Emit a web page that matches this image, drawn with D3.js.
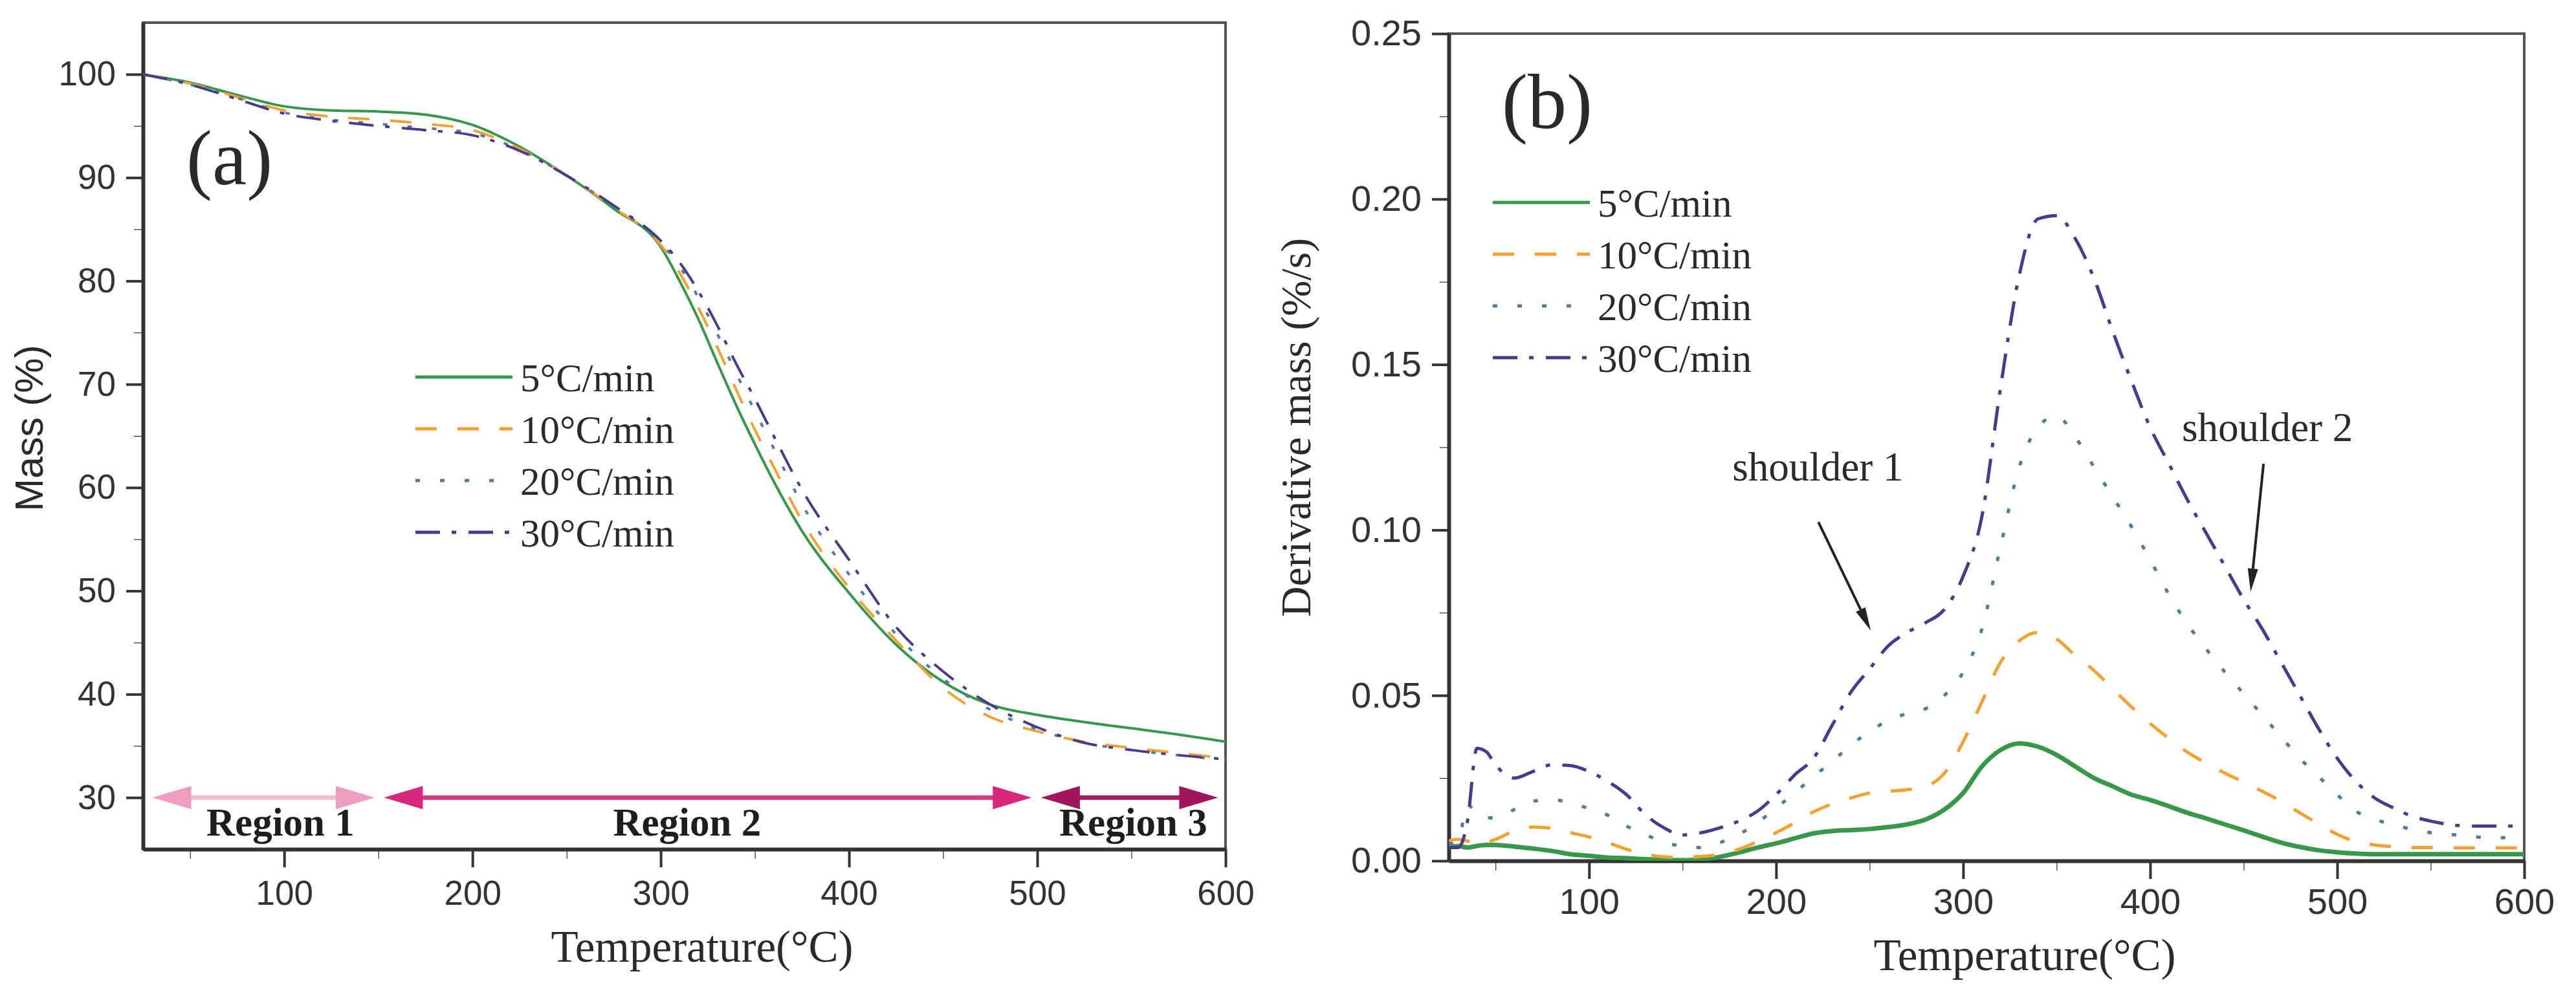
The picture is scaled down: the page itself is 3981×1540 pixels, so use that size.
<!DOCTYPE html>
<html>
<head>
<meta charset="utf-8">
<script src="https://cdn.jsdelivr.net/npm/d3@7/dist/d3.min.js"></script>
<style>
  body { margin: 0; background: #fff; }
</style>
</head>
<body>
<svg id="chart" width="3981" height="1540"></svg>
<script>
// ---- data ----
// (a) TG curves, mass (%) vs temperature (°C)
const tempA = [25, 50, 75, 100, 125, 150, 175, 200, 225, 250, 275, 300, 310, 320,
  330, 340, 350, 360, 375, 400, 425, 450, 475, 500, 525, 550, 575, 600];
const mass5 = [100.0, 99.2, 98.0, 96.9, 96.5, 96.4, 96.1, 95.1, 93.0, 90.2, 87.0, 83.3, 80.0, 76.3,
  72.1, 68.0, 64.2, 60.6, 55.8, 49.8, 44.8, 41.2, 39.0, 38.0, 37.3, 36.7, 36.1, 35.4];
const mass10 = [100.0, 99.1, 97.8, 96.5, 95.9, 95.6, 95.2, 94.6, 92.8, 90.2, 87.1, 83.5, 80.8, 77.4,
  73.6, 69.5, 65.6, 62.0, 56.8, 50.3, 45.2, 40.6, 37.8, 36.4, 35.4, 34.8, 34.3, 33.8];
const mass20 = [100.0, 99.0, 97.7, 96.3, 95.6, 95.2, 94.8, 94.3, 92.7, 90.2, 87.2, 83.7, 81.4, 78.4,
  74.9, 71.1, 67.4, 63.8, 58.4, 51.6, 45.8, 41.5, 38.5, 36.6, 35.3, 34.6, 34.1, 33.6];
const mass30 = [100.0, 99.0, 97.6, 96.2, 95.5, 95.0, 94.6, 94.1, 92.6, 90.2, 87.3, 83.9, 81.8, 79.0,
  75.7, 72.0, 68.6, 65.0, 59.8, 53.0, 46.5, 42.2, 39.0, 36.8, 35.3, 34.6, 34.1, 33.7];

// (b) DTG curves, derivative mass (%/s) vs temperature (°C)
const tempB = [25, 30, 35, 40, 45, 50, 60, 70, 80, 90, 100, 110, 120, 130, 140, 150, 160, 170, 180,
  190, 200, 210, 220, 230, 240, 250, 260, 270, 280, 290, 300, 310, 320, 330, 340, 350, 360, 370,
  380, 390, 400, 410, 420, 430, 440, 450, 460, 470, 480, 490, 500, 510, 520, 530, 540, 550, 560,
  570, 580, 590, 600];
const dtg5 = [0.004, 0.0045, 0.004, 0.0045, 0.0048, 0.0048, 0.0043, 0.0037, 0.003, 0.002, 0.0015,
  0.001, 0.0008, 0.0005, 0.0003, 0.0002, 0.0005, 0.0012, 0.0025, 0.004, 0.0053, 0.0068, 0.0083,
  0.009, 0.0093, 0.0096, 0.0102, 0.011, 0.0125, 0.0155, 0.0205, 0.0285, 0.0335, 0.0355, 0.0345,
  0.032, 0.0285, 0.025, 0.0225, 0.020, 0.0184, 0.0165, 0.0145, 0.0128, 0.011, 0.0092, 0.0073,
  0.0055, 0.0042, 0.0032, 0.0026, 0.0022, 0.002, 0.002, 0.002, 0.002, 0.002, 0.002, 0.002, 0.002, 0.002];
const dtg10 = [0.006, 0.0065, 0.006, 0.005, 0.0055, 0.0065, 0.009, 0.0102, 0.0098, 0.0085, 0.0072,
  0.0055, 0.0035, 0.002, 0.0012, 0.001, 0.0013, 0.002, 0.0035, 0.0058, 0.0085, 0.0115, 0.0148,
  0.0172, 0.019, 0.0205, 0.021, 0.0215, 0.0225, 0.0265, 0.036, 0.048, 0.060, 0.0665, 0.069,
  0.067, 0.062, 0.0575, 0.052, 0.0465, 0.0415, 0.037, 0.0328, 0.0295, 0.0265, 0.0238, 0.021,
  0.018, 0.0145, 0.0112, 0.008, 0.0058, 0.0048, 0.0043, 0.004, 0.004, 0.0039, 0.0039, 0.0039, 0.0039, 0.0039];
const dtg20 = [0.005, 0.006, 0.017, 0.014, 0.013, 0.013, 0.0155, 0.018, 0.0185, 0.0175, 0.0158,
  0.0138, 0.0105, 0.008, 0.0055, 0.0045, 0.004, 0.0055, 0.008, 0.0115, 0.016, 0.0205, 0.0255,
  0.030, 0.035, 0.039, 0.0425, 0.0445, 0.046, 0.050, 0.057, 0.070, 0.095, 0.119, 0.131,
  0.1345, 0.128, 0.119, 0.110, 0.101, 0.091, 0.0805, 0.0715, 0.064, 0.057, 0.0505, 0.044,
  0.0375, 0.031, 0.0255, 0.020, 0.015, 0.0125, 0.011, 0.0095, 0.0085, 0.008, 0.0075, 0.007, 0.007, 0.0067];
const dtg30 = [0.004, 0.004, 0.012, 0.034, 0.033, 0.029, 0.025, 0.027, 0.029, 0.0288, 0.027,
  0.024, 0.020, 0.014, 0.010, 0.0078, 0.0085, 0.010, 0.012, 0.015, 0.020, 0.026, 0.031,
  0.041, 0.051, 0.058, 0.065, 0.069, 0.072, 0.076, 0.086, 0.104, 0.143, 0.177, 0.194,
  0.195, 0.188, 0.176, 0.160, 0.145, 0.131, 0.120, 0.109, 0.099, 0.089, 0.079, 0.070,
  0.060, 0.050, 0.040, 0.031, 0.024, 0.019, 0.016, 0.0135, 0.012, 0.011, 0.0105, 0.0105, 0.0105, 0.0105];

const rateLabels = ["5°C/min", "10°C/min", "20°C/min", "30°C/min"];
const tempTicks = [100, 200, 300, 400, 500, 600];
const tempMinor = [50, 150, 250, 350, 450, 550];
const massTicks = [30, 40, 50, 60, 70, 80, 90, 100];
const massMinor = [35, 45, 55, 65, 75, 85, 95];
const dtgTicks = [0, 0.05, 0.10, 0.15, 0.20, 0.25];
const dtgMinor = [0.025, 0.075, 0.125, 0.175, 0.225];

// regions in (a), drawn at mass = 30 %
const regionNames = ["Region 1", "Region 2", "Region 3"];
const regionFrom = [30, 153, 502];
const regionTo = [148, 497, 596];
const regionLabelAt = [98, 314, 551];

// ---- styles ----
const colors = ["#37984c", "#f0a232", "#4f7d9c", "#4a3a8c"];
const dashes = [null, "33,32", "7,31", "38,18,7,19"];
const serif = "'Liberation Serif', 'Times New Roman', serif";
const sans = "'Liberation Sans', Arial, sans-serif";
const ink = "#2a2a2a";

const svg = d3.select("#chart");
svg.append("rect").attr("width", 3981).attr("height", 1540).attr("fill", "#fff");

function drawPanel(p) {
  const x = d3.scaleLinear().domain([25, 600]).range(p.xRange);
  const y = d3.scaleLinear().domain(p.yDomain).range(p.yRange);
  const g = svg.append("g");
  const left = p.xRange[0], right = p.xRange[1], bottom = p.yRange[0], top = p.yRange[1];

  // clip for curves
  g.append("clipPath").attr("id", p.id + "clip")
    .append("rect").attr("x", left).attr("y", top).attr("width", right - left).attr("height", bottom - top);

  // frame (top and right)
  g.append("rect")
    .attr("x", left).attr("y", top).attr("width", right - left).attr("height", bottom - top)
    .attr("fill", "none").attr("stroke", "#555").attr("stroke-width", 4);

  // minor ticks
  g.append("g").attr("transform", `translate(0,${bottom})`)
    .call(d3.axisBottom(x).tickValues(tempMinor).tickSize(15).tickSizeOuter(0).tickFormat(""))
    .call(a => a.select(".domain").remove());
  g.append("g").attr("transform", `translate(${left},0)`)
    .call(d3.axisLeft(y).tickValues(p.yMinor).tickSize(14).tickSizeOuter(0).tickFormat(""))
    .call(a => a.select(".domain").remove());

  // major axes
  const ax = g.append("g").attr("transform", `translate(0,${bottom})`)
    .call(d3.axisBottom(x).tickValues(tempTicks).tickSize(28).tickSizeOuter(0).tickPadding(p.xPad));
  const ay = g.append("g").attr("transform", `translate(${left},0)`)
    .call(d3.axisLeft(y).tickValues(p.yTicks).tickSize(26).tickSizeOuter(0).tickPadding(16)
      .tickFormat(p.yFormat));
  [ax, ay].forEach(a => {
    a.selectAll(".tick line").attr("stroke", "#333").attr("stroke-width", 4);
    a.select(".domain").attr("stroke", "#333").attr("stroke-width", 6);
    a.selectAll("text").attr("font-family", sans).attr("font-size", p.tickFont).attr("fill", "#333");
  });

  // curves
  const line = d3.line().x(d => x(d[0])).y(d => y(d[1])).curve(d3.curveMonotoneX);
  p.series.forEach((vals, i) => {
    g.append("path")
      .datum(p.temps.map((t, k) => [t, vals[k]]))
      .attr("clip-path", `url(#${p.id}clip)`)
      .attr("d", line)
      .attr("fill", "none")
      .attr("stroke", colors[i])
      .attr("stroke-width", p.widths[i])
      .attr("stroke-dasharray", dashes[i]);
  });

  // legend
  rateLabels.forEach((lab, i) => {
    const ly = p.legendY + i * 80;
    g.append("line")
      .attr("x1", p.legendX).attr("x2", p.legendX + 150).attr("y1", ly).attr("y2", ly)
      .attr("stroke", colors[i]).attr("stroke-width", 5).attr("stroke-dasharray", dashes[i]);
    g.append("text")
      .attr("x", p.legendX + 162).attr("y", ly + 22)
      .attr("font-family", serif).attr("font-size", 61).attr("fill", ink)
      .text(lab);
  });

  // panel letter
  g.append("text").attr("x", p.letterPos[0]).attr("y", p.letterPos[1])
    .attr("font-family", serif).attr("font-size", 120).attr("fill", ink).text(p.letter);

  // axis titles
  g.append("text")
    .attr("x", p.xTitlePos[0]).attr("y", p.xTitlePos[1]).attr("text-anchor", "middle")
    .attr("font-family", serif).attr("font-size", 69).attr("fill", ink)
    .text("Temperature(°C)");
  g.append("text")
    .attr("transform", `translate(${p.yTitlePos[0]},${p.yTitlePos[1]}) rotate(-90)`)
    .attr("text-anchor", "middle")
    .attr("font-family", p.yTitleFont).attr("font-size", p.yTitleSize).attr("fill", ink)
    .text(p.yTitle);

  return { g, x, y };
}

// ---- panel (a) ----
const A = drawPanel({
  id: "a", xRange: [221, 1894], yDomain: [25, 105], yRange: [1313, 35],
  yTicks: massTicks, yMinor: massMinor, yFormat: d3.format("d"),
  xPad: 20, tickFont: 53,
  temps: tempA, series: [mass5, mass10, mass20, mass30], widths: [4, 4, 4, 4],
  legendX: 642, legendY: 583, letter: "(a)", letterPos: [288, 285],
  xTitlePos: [1085, 1487], yTitlePos: [66, 662], yTitle: "Mass (%)",
  yTitleFont: sans, yTitleSize: 61
});

// region arrows
const regionLine = ["#f4bcd4", "#d23c84", "#a21c60"];
const regionHead = ["#ee9cc2", "#d8287e", "#a0165c"];
const yr = A.y(30);
regionNames.forEach((name, i) => {
  const x0 = A.x(regionFrom[i]), x1 = A.x(regionTo[i]);
  const hl = 60, hh = 18;
  A.g.append("line").attr("x1", x0 + 20).attr("x2", x1 - 20).attr("y1", yr).attr("y2", yr)
    .attr("stroke", regionLine[i]).attr("stroke-width", 7);
  A.g.append("path")
    .attr("d", `M${x0},${yr}L${x0 + hl},${yr - hh}L${x0 + hl},${yr + hh}Z`)
    .attr("fill", regionHead[i]);
  A.g.append("path")
    .attr("d", `M${x1},${yr}L${x1 - hl},${yr - hh}L${x1 - hl},${yr + hh}Z`)
    .attr("fill", regionHead[i]);
  A.g.append("text")
    .attr("x", A.x(regionLabelAt[i])).attr("y", 1292).attr("text-anchor", "middle")
    .attr("font-family", serif).attr("font-weight", "bold").attr("font-size", 61)
    .attr("fill", "#1e1e1e").text(name);
});

// ---- panel (b) ----
const B = drawPanel({
  id: "b", xRange: [2239, 3901], yDomain: [0, 0.25], yRange: [1331, 52],
  yTicks: dtgTicks, yMinor: dtgMinor, yFormat: d3.format(".2f"),
  xPad: 14, tickFont: 56,
  temps: tempB, series: [dtg5, dtg10, dtg20, dtg30], widths: [7, 5, 5, 5],
  legendX: 2307, legendY: 313, letter: "(b)", letterPos: [2321, 198],
  xTitlePos: [3129, 1500], yTitlePos: [2025, 661], yTitle: "Derivative mass (%/s)",
  yTitleFont: serif, yTitleSize: 66
});

// shoulder annotations (data coordinates of text start, arrow tail and tip)
const shoulderNames = ["shoulder 1", "shoulder 2"];
const shoulderText = [[176.6, 0.1149], [417, 0.1269]];
const shoulderTail = [[222.6, 0.1024], [460.6, 0.120]];
const shoulderTip = [[250.6, 0.0696], [453.7, 0.0813]];
shoulderNames.forEach((name, i) => {
  B.g.append("text")
    .attr("x", B.x(shoulderText[i][0])).attr("y", B.y(shoulderText[i][1]))
    .attr("font-family", serif).attr("font-size", 63).attr("fill", ink).text(name);
  const tx = B.x(shoulderTail[i][0]), ty = B.y(shoulderTail[i][1]);
  const hx = B.x(shoulderTip[i][0]), hy = B.y(shoulderTip[i][1]);
  const ang = Math.atan2(hy - ty, hx - tx), L = 36, W = 8;
  const bx = hx - L * Math.cos(ang), by = hy - L * Math.sin(ang);
  B.g.append("line").attr("x1", tx).attr("y1", ty).attr("x2", bx).attr("y2", by)
    .attr("stroke", "#222").attr("stroke-width", 4);
  B.g.append("path")
    .attr("d", `M${hx},${hy}L${bx + W * Math.sin(ang)},${by - W * Math.cos(ang)}L${bx - W * Math.sin(ang)},${by + W * Math.cos(ang)}Z`)
    .attr("fill", "#222");
});
</script>
</body>
</html>
